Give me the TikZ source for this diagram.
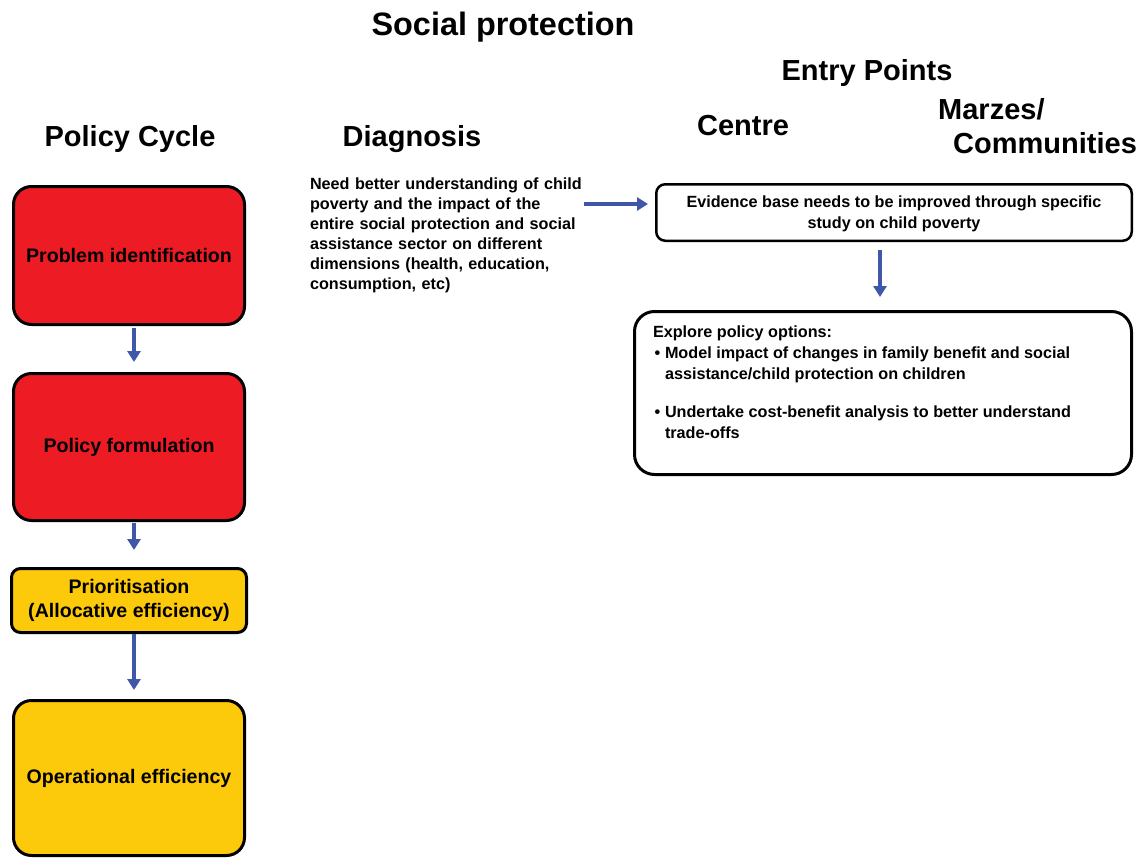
\documentclass[tikz,border=0pt]{standalone}
\usepackage{fontspec}
\setmainfont{Liberation Sans}
\usetikzlibrary{arrows.meta,calc}
\definecolor{boxred}{RGB}{237,28,36}
\definecolor{boxgold}{RGB}{252,202,10}
\definecolor{flowblue}{RGB}{63,87,166}
\begin{document}
\begin{tikzpicture}[x=1pt,y=-1pt,
  heading/.style={font=\fontsize{29}{33}\selectfont\bfseries, inner sep=0pt, anchor=base},
  stage/.style={draw=black, line width=3pt, rounded corners=18pt, minimum width=231pt,
    inner sep=0pt, outer sep=0pt, align=center,
    font=\fontsize{19.6}{23.3}\selectfont\bfseries},
  note/.style={draw=black, line width=3pt, inner sep=0pt, outer sep=0pt, align=center,
    font=\fontsize{16.2}{20.5}\selectfont\bfseries},
  plain/.style={inner sep=0pt, outer sep=0pt, align=left},
  flow/.style={draw=flowblue, line width=4pt, -{Triangle[width=13pt,length=11pt]}}]
\useasboundingbox (0,0) rectangle (1146,859);

% headings
\node[heading, font=\fontsize{32.4}{36}\selectfont\bfseries] (title) at (503,36) {Social protection};
\node[heading] (entry) at (867,81) {Entry Points};
\node[heading] (cycle) at (130,146) {Policy Cycle};
\node[heading] (diagh) at (412,146) {Diagnosis};
\node[heading] (centre) at (743,135) {Centre};
\node[heading, anchor=base west] (marz) at (938,119) {Marzes/};
\node[heading, anchor=base west] (comm) at (953,153) {Communities};

% policy cycle stages
\node[stage, fill=boxred, minimum height=138pt] (pi) at (129,255.5) {Problem identification};
\node[stage, fill=boxred, minimum height=147pt] (pf) at (129,447) {Policy formulation};
\node[stage, fill=boxgold, rounded corners=9pt, minimum width=235pt, minimum height=64pt] (pr) at (129,600.5)
  {Prioritisation\\(Allocative efficiency)};
\node[stage, fill=boxgold, minimum height=155pt] (op) at (129,778) {Operational efficiency};

\draw[flow, shorten <=3.5pt, shorten >=11.5pt] ([xshift=5pt]pi.south) -- ([xshift=5pt]pf.north);
\draw[flow, shorten <=2pt, shorten >=18.5pt] ([xshift=5pt]pf.south) -- ([xshift=5pt]pr.north);
\draw[flow, shorten <=1.5pt, shorten >=10.5pt] ([xshift=5pt]pr.south) -- ([xshift=5pt]op.north);

% diagnosis
\node[plain, anchor=north west, text width=272pt, font=\fontsize{16.2}{20}\selectfont\bfseries] (diag) at (310,177.5)
  {Need better understanding of child\\
   poverty and the impact of the\\
   entire social protection and social\\
   assistance sector on different\\
   dimensions (health, education,\\
   consumption, etc)};

% entry points
\node[note, line width=2.5pt, rounded corners=9pt, minimum width=475.5pt, minimum height=56.5pt] (ev) at (894,212.5)
  {\rule{0pt}{14pt}Evidence base needs to be improved through specific\\study on child poverty};
\node[note, rounded corners=20pt, minimum width=497pt, minimum height=163pt] (ex) at (883,393) {};
\node[plain, anchor=north west, font=\fontsize{16.2}{21}\selectfont\bfseries] (ext) at ($(ex.north west)+(18.5,14.5)$)
  {Explore policy options:\\
   \makebox[12pt][l]{\hspace{1.5pt}\textbullet}Model impact of changes in family benefit and social\\
   \hspace*{12pt}assistance/child protection on children\\[17pt]
   \makebox[12pt][l]{\hspace{1.5pt}\textbullet}Undertake cost-benefit analysis to better understand\\
   \hspace*{12pt}trade-offs};

\draw[flow, shorten <=2pt, shorten >=8.25pt] ($(diag.east |- ev.west)+(0,-8.5)$) -- ($(ev.west)+(0,-8.5)$);
\draw[flow, shorten <=9.25pt, shorten >=14.5pt] ([xshift=-14pt]ev.south) -- ([xshift=-14pt]ev.south |- ex.north);
\end{tikzpicture}
\end{document}
